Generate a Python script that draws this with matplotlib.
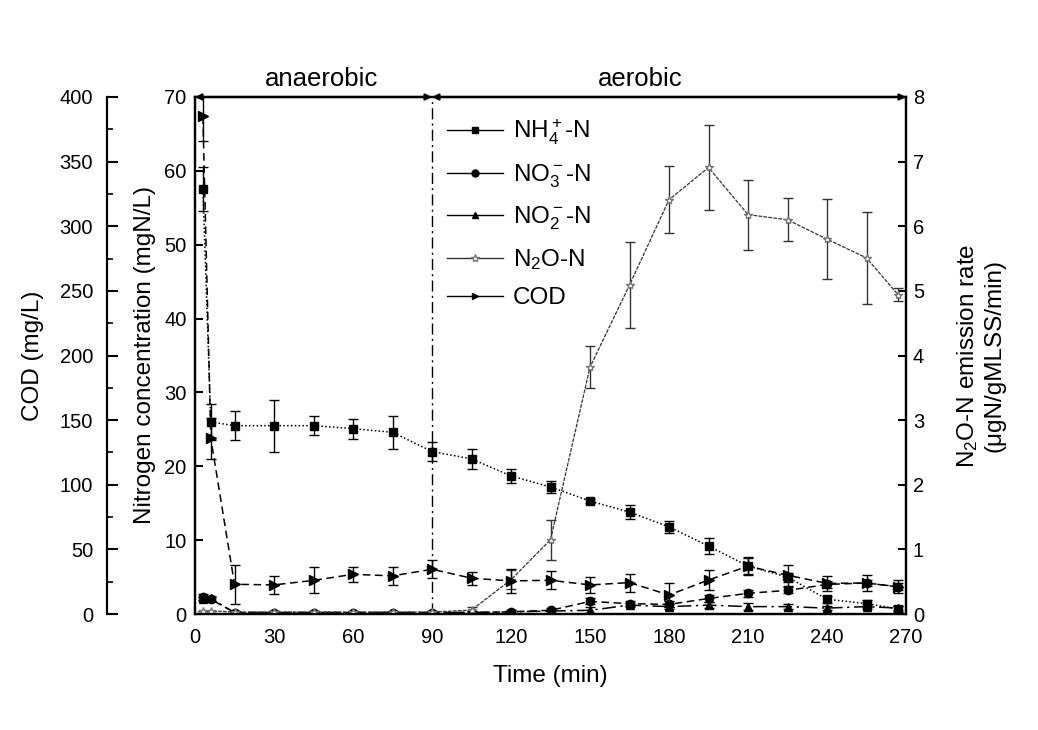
import matplotlib
matplotlib.use('Agg')
import matplotlib.pyplot as plt
from matplotlib.lines import Line2D
import numpy as np

plt.rcParams['font.family'] = ['Liberation Sans', 'DejaVu Sans']
plt.rcParams['mathtext.fontset'] = 'custom'
plt.rcParams['mathtext.rm'] = 'Liberation Sans'
plt.rcParams['mathtext.it'] = 'Liberation Sans'

# sampling times (min)
time = [3, 6, 15, 30, 45, 60, 75, 90, 105, 120, 135, 150, 165, 180, 195, 210, 225, 240, 255, 267]

# nitrogen species (mgN/L)
nh4 = [57.5, 26.0, 25.5, 25.5, 25.5, 25.1, 24.6, 22.0, 21.0, 18.7, 17.2, 15.3, 13.8, 11.8, 9.2, 6.5, 5.0, 2.0, 1.4, 0.7]
nh4_err = [3.0, 2.4, 2.0, 3.5, 1.3, 1.35, 2.2, 1.3, 1.4, 1.0, 0.8, 0.3, 1.0, 0.8, 1.1, 1.2, 0.6, 0.5, 0.5, 0.4]
no3 = [2.3, 2.0, 0.2, 0.2, 0.2, 0.2, 0.2, 0.2, 0.2, 0.3, 0.5, 1.7, 1.4, 1.3, 2.1, 2.8, 3.2, 4.0, 4.2, 3.7]
no3_err = [0.4, 0.3, 0.2, 0.2, 0.2, 0.2, 0.2, 0.2, 0.2, 0.3, 0.3, 0.4, 0.3, 0.4, 0.5, 0.5, 0.4, 0.5, 0.4, 0.5]
no2 = [2.0, 2.1, 0.2, 0.2, 0.2, 0.2, 0.2, 0.2, 0.2, 0.3, 0.4, 0.5, 1.2, 1.0, 1.2, 1.0, 1.0, 0.8, 1.0, 0.8]
no2_err = [0.3, 0.3, 0.2, 0.2, 0.2, 0.2, 0.2, 0.2, 0.2, 0.2, 0.2, 0.4, 0.3, 0.3, 0.4, 0.5, 0.3, 0.3, 0.3, 0.3]

# N2O-N emission rate (ugN/gMLSS/min)
n2o = [0.05, 0.05, 0.03, 0.03, 0.03, 0.03, 0.03, 0.03, 0.06, 0.53, 1.15, 3.82, 5.09, 6.41, 6.91, 6.18, 6.10, 5.80, 5.51, 4.94]
n2o_err = [0, 0, 0, 0, 0, 0, 0, 0, 0.05, 0.15, 0.31, 0.32, 0.66, 0.52, 0.66, 0.54, 0.33, 0.62, 0.71, 0.1]

# COD (mg/L)
cod = [385, 136, 23, 22.5, 26, 30.7, 29.5, 34.6, 27.7, 25.6, 26.1, 22.5, 24.3, 14.7, 26.3, 37, 30, 23.7, 24, 21]
cod_err = [19, 16, 15, 7, 10, 6, 7, 7, 5, 9, 7, 6, 7, 9, 8, 6, 8, 6, 6, 5]

labels = [r'NH$_4^+$-N', r'NO$_3^-$-N', r'NO$_2^-$-N', r'N$_2$O-N', 'COD']

fig = plt.figure(figsize=(10.38, 7.3), dpi=100)
ax = fig.add_axes([195/1038, 1-614/730, 711/1038, 517/730])
ax2 = ax.twinx()
ax3 = ax.twinx()

ekw = dict(color='black', capsize=3.5, elinewidth=1, capthick=1)
ax.errorbar(time, nh4, yerr=nh4_err, marker='s', ms=6, ls=(0, (1, 1.5)), lw=1.1, **ekw)
ax.errorbar(time, no3, yerr=no3_err, marker='o', ms=6, ls=(0, (5, 3)), lw=1.1, **ekw)
ax.errorbar(time, no2, yerr=no2_err, marker='^', ms=6, ls=(0, (9, 3, 1.5, 3)), lw=1.1, **ekw)
ax2.errorbar(time, n2o, yerr=n2o_err, marker='*', ms=6, mfc='white', mec='#777777', ls=(0, (3, 1)),
             lw=0.9, color='#333333', ecolor='#333333', capsize=3.5, elinewidth=1, capthick=1)
ax3.errorbar(time, cod, yerr=cod_err, marker='>', ms=7, ls=(0, (5, 3)), lw=1.1, **ekw)

# phase separator
ax.axvline(90, color='black', lw=1, ls=(0, (8, 3, 1.5, 3)))

ax.set_xlim(0, 270)
ax.set_ylim(0, 70)
ax2.set_ylim(0, 8)
ax3.set_ylim(0, 400)

ax.set_xticks(np.arange(0, 271, 30))
ax.set_yticks(np.arange(0, 71, 10))
ax2.set_yticks(np.arange(0, 9, 1))
ax3.set_yticks(np.arange(0, 401, 50))
ax3.set_yticks(np.arange(25, 400, 50), minor=True)

for a in (ax, ax2, ax3):
    for s in a.spines.values():
        s.set_linewidth(1.6)

ax.tick_params(axis='x', direction='in', length=0, labelsize=14.5, pad=10)
ax.tick_params(axis='y', direction='in', length=6, width=1.5, labelsize=14.5, pad=6)
ax2.tick_params(axis='y', direction='in', length=6, width=1.5, labelsize=14.5, pad=5)

ax3.spines['left'].set_position(('axes', -88/711))
ax3.spines['left'].set_visible(True)
ax3.spines['right'].set_visible(False)
ax3.spines['top'].set_visible(False)
ax3.spines['bottom'].set_visible(False)
ax3.yaxis.set_ticks_position('left')
ax3.yaxis.set_label_position('left')
ax3.tick_params(axis='y', which='major', direction='in', length=8, width=1.5, labelsize=14.5, pad=10)
ax3.tick_params(axis='y', which='minor', direction='in', length=4, width=1.2)

ax.set_xlabel('Time (min)', fontsize=17.5)
ax.xaxis.set_label_coords(0.5, -0.099)
ax.set_ylabel('Nitrogen concentration (mgN/L)', fontsize=17.5)
ax.yaxis.set_label_coords(-0.055, 0.5)
ax3.set_ylabel('COD (mg/L)', fontsize=17.5)
ax3.yaxis.set_label_coords(-0.212, 0.5)
ax2.set_ylabel('N$_2$O-N emission rate\n(\u03bcgN/gMLSS/min)', fontsize=17.5, linespacing=1.2)
ax2.yaxis.set_label_coords(1.069, 0.5)

# phase arrows along top
arr = dict(arrowstyle='<|-|>', color='black', lw=1.6, mutation_scale=9, shrinkA=0, shrinkB=0)
ax.annotate('', xy=(0, 70), xytext=(90, 70), xycoords='data', arrowprops=arr, annotation_clip=False)
ax.annotate('', xy=(90, 70), xytext=(270, 70), xycoords='data', arrowprops=arr, annotation_clip=False)
ax.text(48, 71.5, 'anaerobic', ha='center', va='baseline', fontsize=18.5)
ax.text(169, 71.5, 'aerobic', ha='center', va='baseline', fontsize=18.5)

markers = ['s', 'o', '^', '*', '>']
handles = []
for i, m in enumerate(markers):
    if m == '*':
        handles.append(Line2D([], [], color='#333333', lw=1, marker=m, ms=6, mfc='white', mec='#777777'))
    else:
        handles.append(Line2D([], [], color='black', lw=1, marker=m, ms=5))
ax.legend(handles, labels, loc='upper left', bbox_to_anchor=(0.324, 1.002), frameon=False,
          fontsize=17.5, handlelength=2.3, labelspacing=0.62, handletextpad=0.4)

fig.savefig('out.png', dpi=100)
